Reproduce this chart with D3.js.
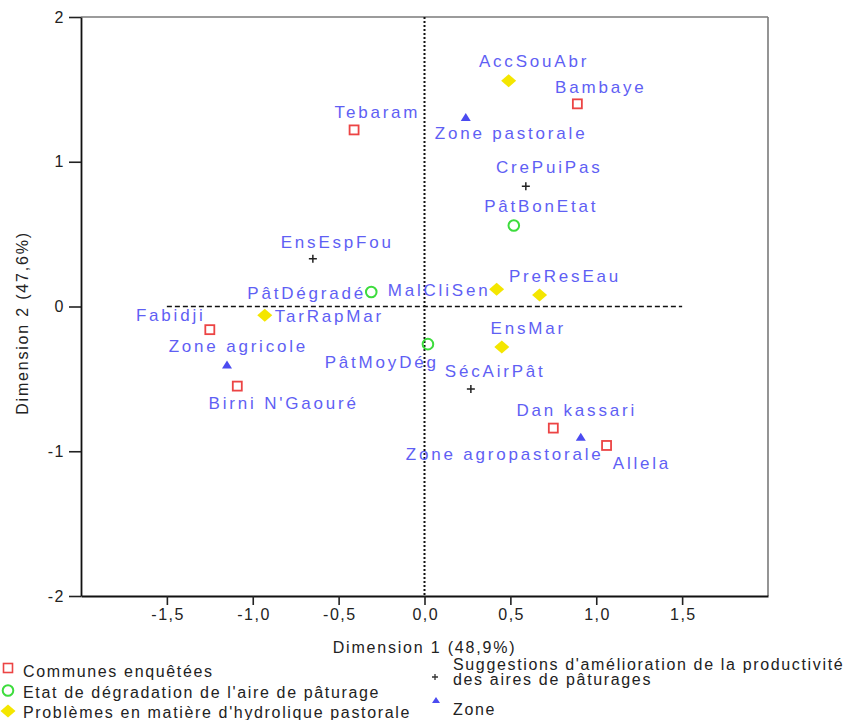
<!DOCTYPE html>
<html>
<head>
<meta charset="utf-8">
<script src="https://cdn.jsdelivr.net/npm/d3@7"></script>
<style>
  html, body { margin: 0; padding: 0; background: #fff; }
  svg { display: block; font-family: "Liberation Sans", Arial, sans-serif; }
</style>
</head>
<body>
<svg id="chart" width="845" height="720"></svg>
<script>
// Category groups shown in the legend
const groupNames = [
  "Communes enquêtées",
  "Etat de dégradation de l'aire de pâturage",
  "Problèmes en matière d'hydrolique pastorale",
  "Suggestions d'amélioration de la productivité des aires de pâturages",
  "Zone"
];

// Category points: label, coordinates on dimensions 1 and 2, group index
const pointLabels = [
  "Tebaram", "Bambaye", "Fabidji", "Birni N'Gaouré", "Dan kassari", "Allela",
  "PâtBonEtat", "PâtDégradé", "PâtMoyDég",
  "AccSouAbr", "PreResEau", "MalCliSen", "TarRapMar", "EnsMar",
  "CrePuiPas", "EnsEspFou", "SécAirPât",
  "Zone pastorale", "Zone agricole", "Zone agropastorale"
];
const dim1 = [
  -0.41, 0.89, -1.25, -1.09, 0.75, 1.06,
  0.52, -0.31, 0.02,
  0.49, 0.67, 0.42, -0.93, 0.45,
  0.59, -0.65, 0.27,
  0.24, -1.15, 0.91
];
const dim2 = [
  1.22, 1.40, -0.16, -0.55, -0.84, -0.96,
  0.56, 0.10, -0.26,
  1.56, 0.08, 0.12, -0.06, -0.28,
  0.83, 0.33, -0.57,
  1.31, -0.40, -0.90
];
const pointGroup = [
  0, 0, 0, 0, 0, 0,
  1, 1, 1,
  2, 2, 2, 2, 2,
  3, 3, 3,
  4, 4, 4
];

// Axis ticks and titles
const xTicks = [-1.5, -1.0, -0.5, 0.0, 0.5, 1.0, 1.5];
const yTicks = [-2, -1, 0, 1, 2];
const xTitle = "Dimension 1 (48,9%)";
const yTitle = "Dimension 2 (47,6%)";

// Label placement around each marker: [anchor, dx, dy(baseline)]
const labelPlacement = {
  "Tebaram": ["middle", 22, -12],
  "Bambaye": ["middle", 22, -11],
  "Fabidji": ["end", -7, -9],
  "Birni N'Gaouré": ["middle", 45, 23],
  "Dan kassari": ["middle", 22, -12],
  "Allela": ["middle", 34, 24],
  "PâtBonEtat": ["middle", 26, -13],
  "PâtDégradé": ["end", -8, 7],
  "PâtMoyDég": ["end", 8, 24],
  "AccSouAbr": ["middle", 24, -14],
  "PreResEau": ["middle", 24, -13],
  "MalCliSen": ["end", -9, 7],
  "TarRapMar": ["start", 10, 7],
  "EnsMar": ["middle", 25, -13],
  "CrePuiPas": ["middle", 22, -13],
  "EnsEspFou": ["middle", 23, -11],
  "SécAirPât": ["middle", 23, -12],
  "Zone pastorale": ["middle", 44, 22],
  "Zone agricole": ["middle", 10, -12],
  "Zone agropastorale": ["end", 20, 23]
};

const svg = d3.select("#chart");
const margin = { left: 81, right: 77, top: 17, bottom: 124 };
const W = 845, H = 720;

const x = d3.scaleLinear().domain([-2, 2]).range([margin.left, W - margin.right]);
const y = d3.scaleLinear().domain([-2, 2]).range([H - margin.bottom, margin.top]);

const locale = d3.formatLocale({ decimal: ",", thousands: ".", grouping: [3], currency: ["", ""], minus: "-" });
const fmtX = locale.format(".1f");
const fmtY = locale.format("d");

const labelColor = "#5f5ff4";
const markerColors = ["#ec4444", "#3ddc3d", "#f4e600", "#222222", "#4b4bf0"];

// Frame: grey top and right edges
svg.append("line").attr("x1", x(-2)).attr("x2", x(2)).attr("y1", y(2)).attr("y2", y(2))
  .attr("stroke", "#7a7a7a").attr("stroke-width", 1.6);
svg.append("line").attr("x1", x(2)).attr("x2", x(2)).attr("y1", y(2)).attr("y2", y(-2))
  .attr("stroke", "#7a7a7a").attr("stroke-width", 1.6);

// Reference lines through the origin
svg.append("line").attr("x1", x(-1.5)).attr("x2", x(1.5)).attr("y1", y(0)).attr("y2", y(0))
  .attr("stroke", "#111").attr("stroke-width", 1.4).attr("stroke-dasharray", "5,3");
svg.append("line").attr("x1", x(0)).attr("x2", x(0)).attr("y1", y(2)).attr("y2", y(-2))
  .attr("stroke", "#111").attr("stroke-width", 2).attr("stroke-dasharray", "2,2");

// Axes
const yAxis = svg.append("g").attr("transform", `translate(${x(-2)},0)`)
  .call(d3.axisLeft(y).tickValues(yTicks).tickFormat(fmtY).tickSize(12).tickSizeOuter(0).tickPadding(4));
const xAxis = svg.append("g").attr("transform", `translate(0,${y(-2)})`)
  .call(d3.axisBottom(x).tickValues(xTicks).tickFormat(fmtX).tickSize(9).tickSizeOuter(0).tickPadding(4));
[xAxis, yAxis].forEach(a => {
  a.select(".domain").attr("stroke", "#111").attr("stroke-width", 1.8);
  a.selectAll(".tick line").attr("stroke", "#222").attr("stroke-width", 1.6);
  a.selectAll(".tick text").attr("fill", "#222").style("font-size", "16px")
    .style("font-family", "'Liberation Sans', Arial, sans-serif").style("letter-spacing", "1.5px");
});
xAxis.selectAll(".tick text").attr("dx", "0.75px");

// Axis titles
svg.append("text").attr("x", x(0)).attr("y", 653).attr("text-anchor", "middle")
  .attr("fill", "#222").style("font-size", "16px").style("letter-spacing", "1.8px").text(xTitle);
svg.append("text").attr("transform", "translate(28,323) rotate(-90)").attr("text-anchor", "middle")
  .attr("fill", "#222").style("font-size", "16px").style("letter-spacing", "1.8px").text(yTitle);

// Marker drawing per group
function drawMarker(g, group, cx, cy) {
  const c = markerColors[group];
  if (group === 0) {
    g.append("rect").attr("x", cx - 4.5).attr("y", cy - 4.5).attr("width", 9).attr("height", 9)
      .attr("fill", "#fff").attr("stroke", c).attr("stroke-width", 1.8);
  } else if (group === 1) {
    g.append("circle").attr("cx", cx).attr("cy", cy).attr("r", 5.3)
      .attr("fill", "none").attr("stroke", c).attr("stroke-width", 2);
  } else if (group === 2) {
    g.append("path").attr("d", `M${cx - 7.5},${cy} L${cx},${cy - 6.5} L${cx + 7.5},${cy} L${cx},${cy + 6.5} Z`)
      .attr("fill", c);
  } else if (group === 3) {
    g.append("path").attr("d", `M${cx - 4},${cy} H${cx + 4} M${cx},${cy - 4} V${cy + 4}`)
      .attr("stroke", c).attr("stroke-width", 1.5).attr("fill", "none");
  } else {
    g.append("path").attr("d", `M${cx - 5},${cy + 4} L${cx},${cy - 4} L${cx + 5},${cy + 4} Z`)
      .attr("fill", c);
  }
}

// Points and their labels
const labelSpacing = 2.8;
const pts = svg.append("g");
pointLabels.forEach((name, i) => {
  const cx = x(dim1[i]), cy = y(dim2[i]);
  drawMarker(pts, pointGroup[i], cx, cy);
  const [anchor, dx, dy] = labelPlacement[name];
  const shift = anchor === "end" ? labelSpacing : (anchor === "middle" ? labelSpacing / 2 : 0);
  pts.append("text")
    .attr("x", cx + dx + shift).attr("y", cy + dy)
    .attr("text-anchor", anchor)
    .attr("fill", labelColor)
    .style("font-size", "17px")
    .style("letter-spacing", labelSpacing + "px")
    .text(name);
});

// Legend
const legend = svg.append("g").style("font-size", "16px").style("letter-spacing", "1.65px").attr("fill", "#222");
const legendRows = [
  { group: 0, mx: 8, my: 668, tx: 23, lines: [[groupNames[0], 677]] },
  { group: 1, mx: 8, my: 690.5, tx: 23, lines: [[groupNames[1], 697.5]] },
  { group: 2, mx: 8, my: 711, tx: 23, lines: [[groupNames[2], 717.5]] },
  { group: 3, mx: 435, my: 677, tx: 453, lines: [["Suggestions d'amélioration de la productivité", 669.5], ["des aires de pâturages", 685]] },
  { group: 4, mx: 436, my: 700, tx: 453, lines: [[groupNames[4], 715]] }
];
legendRows.forEach(r => {
  const lg = legend.append("g");
  if (r.group === 0) {
    lg.append("rect").attr("x", r.mx - 4.5).attr("y", r.my - 4.5).attr("width", 9).attr("height", 9)
      .attr("fill", "#fff").attr("stroke", markerColors[0]).attr("stroke-width", 1.6);
  } else if (r.group === 3) {
    lg.append("path").attr("d", `M${r.mx - 3},${r.my} H${r.mx + 3} M${r.mx},${r.my - 3} V${r.my + 3}`)
      .attr("stroke", "#333").attr("stroke-width", 1.3);
  } else if (r.group === 4) {
    lg.append("path").attr("d", `M${r.mx - 4},${r.my + 3} L${r.mx},${r.my - 3} L${r.mx + 4},${r.my + 3} Z`)
      .attr("fill", markerColors[4]);
  } else {
    drawMarker(lg, r.group, r.mx, r.my);
  }
  r.lines.forEach(([t, by]) => {
    lg.append("text").attr("x", r.tx).attr("y", by).text(t);
  });
});
</script>
</body>
</html>
